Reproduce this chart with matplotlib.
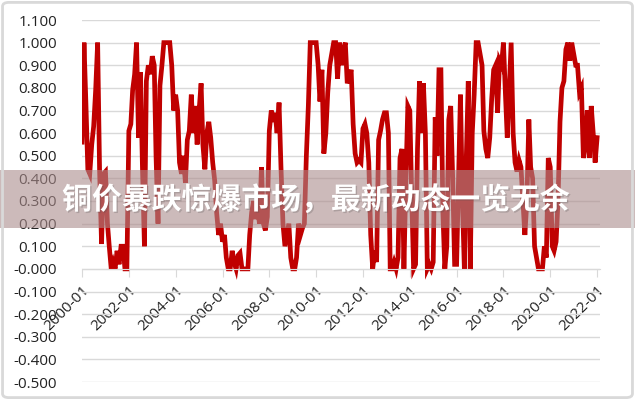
import numpy as np
import pandas as pd
import matplotlib
matplotlib.use('Agg')
import matplotlib.pyplot as plt
import matplotlib.patheffects as pe
from matplotlib.patches import FancyBboxPatch, Rectangle

# monthly values, 2000-01 .. 2022-01
ratio = [
    0.56, 1.0, 0.74, 0.44, 0.42, 0.55, 0.63, 0.79, 1.0, 0.44, 0.11, 0.42,    # 2000
    0.43, 0.2, 0.1, 0.0, 0.03, 0.0, 0.08, 0.02, 0.1, 0.1, 0.0, 0.0,          # 2001
    0.61, 0.64, 0.79, 0.86, 1.0, 0.58, 0.87, 0.45, 0.1, 0.83, 0.9, 0.86,     # 2002
    0.94, 0.9, 0.5, 0.2, 0.81, 0.9, 1.0, 1.0, 1.0, 1.0, 0.9, 0.7,            # 2003
    0.77, 0.7, 0.47, 0.42, 0.5, 0.38, 0.57, 0.61, 0.77, 0.6, 0.72, 0.55,     # 2004
    0.7, 0.82, 0.55, 0.44, 0.6, 0.65, 0.58, 0.47, 0.39, 0.25, 0.15, 0.2,     # 2005
    0.12, 0.15, 0.05, 0.0, 0.0, 0.08, 0.03, 0.0, 0.06, 0.07, 0.0, 0.0,       # 2006
    0.0, 0.0, 0.15, 0.25, 0.3, 0.22, 0.27, 0.2, 0.45, 0.2, 0.17, 0.23,       # 2007
    0.61, 0.7, 0.65, 0.69, 0.6, 0.735, 0.45, 0.2, 0.1, 0.15, 0.2, 0.05,      # 2008
    0.0, 0.0, 0.05, 0.2, 0.15, 0.18, 0.2, 0.5, 0.72, 1.0, 1.0, 1.0,          # 2009
    1.0, 0.9, 0.74, 0.88, 0.51, 0.6, 0.78, 0.9, 0.95, 1.0, 1.0, 0.84,        # 2010
    1.0, 0.9, 0.97, 1.0, 0.82, 0.85, 0.88, 0.64, 0.51, 0.47, 0.48, 0.47,     # 2011
    0.62, 0.64, 0.6, 0.47, 0.15, 0.0, 0.08, 0.03, 0.57, 0.61, 0.66, 0.69,    # 2012
    0.69, 0.6, 0.0, 0.0, 0.03, 0.0, 0.05, 0.49, 0.53, 0.0, 0.4, 0.72,        # 2013
    0.7, 0.3, 0.0, 0.02, 0.53, 0.83, 0.6, 0.82, 0.6, 0.0, 0.02, 0.0,         # 2014
    0.03, 0.67, 0.5, 0.88, 0.88, 0.25, 0.0, 0.1, 0.66, 0.72, 0.4, 0.02,      # 2015
    0.02, 0.4, 0.77, 0.3, 0.0, 0.5, 0.83, 0.0, 0.6, 0.77, 1.0, 1.0,          # 2016
    0.95, 0.9, 0.61, 0.53, 0.49, 0.58, 0.75, 0.88, 0.9, 0.69, 0.92, 0.9,     # 2017
    1.0, 0.77, 0.58, 0.79, 1.0, 0.6, 0.47, 0.43, 0.48, 0.45, 0.3, 0.15,      # 2018
    0.3, 0.66, 0.45, 0.4, 0.1, 0.05, 0.0, 0.0, 0.0, 0.1, 0.05, 0.49,         # 2019
    0.45, 0.1, 0.08, 0.12, 0.3, 0.65, 0.8, 0.83, 0.97, 1.0, 0.92, 1.0,       # 2020
    0.95, 0.9, 0.9, 0.78, 0.8, 0.49, 0.55, 0.7, 0.49, 0.72, 0.6, 0.47,       # 2021
    0.58,                                                                     # 2022
]
months = pd.date_range('2000-01-01', periods=len(ratio), freq='MS')

tick_years = list(range(2000, 2023, 2))
y_ticks = np.round(np.arange(-0.5, 1.101, 0.1), 1)
title = '铜价暴跌惊爆市场，最新动态一览无余'

plt.rcParams['font.family'] = ['Open Sans', 'DejaVu Sans']

fig = plt.figure(figsize=(6.35, 4.0), dpi=100)
ax = fig.add_axes([82 / 635, 18 / 400, 518 / 635, 362 / 400])

ax.plot(months, ratio, color='#c00000', lw=3.4, solid_joinstyle='miter')

ax.set_ylim(-0.5, 1.1)
ax.set_xlim(pd.Timestamp('2000-01-01'), pd.Timestamp('2022-02-15'))
ax.set_yticks(y_ticks)
ax.set_yticklabels([f'{v:.3f}' for v in y_ticks])
ax.grid(axis='y', color='#d9d9d9', lw=1)
ax.set_axisbelow(True)

ax.set_xticks([pd.Timestamp(f'{y}-01-01') for y in tick_years])
ax.set_xticklabels([f'{y}-01' for y in tick_years])

for s in ['top', 'right', 'left']:
    ax.spines[s].set_visible(False)
ax.spines['bottom'].set_position(('data', 0))
ax.spines['bottom'].set_color('#d9d9d9')
ax.tick_params(axis='y', length=0, pad=18, labelsize=11, labelcolor='#222222')
ax.tick_params(axis='x', length=6, color='#d9d9d9', pad=4, labelsize=11,
               labelcolor='#222222', labelrotation=45)
for lbl in ax.get_xticklabels():
    lbl.set_ha('right')
    lbl.set_va('top')
    lbl.set_rotation_mode('anchor')

# frosted title banner
fig.patches.append(Rectangle((0, 1 - 228 / 400), 1, 58 / 400, transform=fig.transFigure,
                             facecolor=(0.67, 0.55, 0.55), alpha=0.6, lw=0, zorder=5))
fig.text(316 / 635, 1 - 200 / 400, title, ha='center', va='center', fontsize=21.5,
         fontweight='bold', color='white', family=['Noto Sans CJK SC', 'DejaVu Sans'],
         zorder=6, path_effects=[pe.withSimplePatchShadow(offset=(1, -1), alpha=0.25)])

fig.patches.append(FancyBboxPatch((0.004, 0.006), 0.992, 0.988, boxstyle='round,pad=0,rounding_size=0.01',
                                  transform=fig.transFigure, fill=False,
                                  edgecolor='#d9d9d9', lw=2, zorder=7))

fig.savefig('out.png', dpi=100)
